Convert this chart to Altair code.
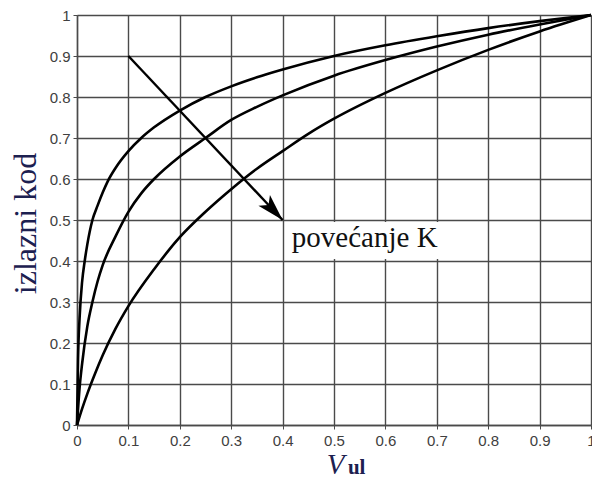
import altair as alt
import pandas as pd
import math

# ---- data ----
x_top = [0, 0.002, 0.005, 0.01, 0.015, 0.02, 0.03, 0.04, 0.05, 0.06, 0.075, 0.1, 0.125, 0.15, 0.2, 0.25, 0.3, 0.35, 0.4, 0.5, 0.6, 0.7, 0.8, 0.9, 1.0]
y_top = [0, 0.16, 0.26, 0.35, 0.40, 0.44, 0.50, 0.535, 0.567, 0.595, 0.627, 0.668, 0.70, 0.726, 0.767, 0.80, 0.826, 0.848, 0.867, 0.90, 0.926, 0.948, 0.968, 0.985, 1.0]

x_mid = [0, 0.005, 0.01, 0.02, 0.03, 0.04, 0.05, 0.075, 0.1, 0.125, 0.15, 0.2, 0.25, 0.3, 0.35, 0.4, 0.5, 0.6, 0.7, 0.8, 0.9, 1.0]
y_mid = [0, 0.09, 0.15, 0.24, 0.30, 0.35, 0.39, 0.46, 0.52, 0.565, 0.60, 0.655, 0.70, 0.744, 0.776, 0.804, 0.852, 0.89, 0.923, 0.952, 0.977, 1.0]

x_low = [0, 0.01, 0.02, 0.035, 0.05, 0.075, 0.1, 0.15, 0.2, 0.25, 0.3, 0.35, 0.4, 0.45, 0.5, 0.6, 0.7, 0.8, 0.9, 1.0]
y_low = [0, 0.04, 0.076, 0.125, 0.17, 0.235, 0.29, 0.38, 0.458, 0.52, 0.575, 0.625, 0.668, 0.71, 0.747, 0.81, 0.865, 0.915, 0.96, 1.0]

tick_values = [0, 0.1, 0.2, 0.3, 0.4, 0.5, 0.6, 0.7, 0.8, 0.9, 1.0]

arrow_start = (0.1, 0.9)
arrow_end = (0.4, 0.5)
label_text = "povećanje K"
label_pos = (0.418, 0.434)
label_box = (0.405, 0.405, 0.73, 0.495)  # x, y, x2, y2

y_title = "izlazni kod"
x_title_main = "V"
x_title_sub = "ul"

# ---- layout ----
W, H = 514, 410
PAD_L, PAD_T = 69, 7
SVG_W, SVG_H = 584, 471
NAVY = "#1c2050"
GRID = "#4a4a4a"

rows = []
for name, xs_, ys_ in [("a", x_top, y_top), ("b", x_mid, y_mid), ("c", x_low, y_low)]:
    for xv, yv in zip(xs_, ys_):
        rows.append({"series": name, "x": xv, "y": yv})
df = pd.DataFrame(rows)

xs = alt.Scale(domain=[0, 1], nice=False, zero=False)
ys = alt.Scale(domain=[0, 1], nice=False, zero=False)

x_axis = alt.Axis(values=tick_values, format="~g", title=None, grid=True,
                  gridColor=GRID, gridWidth=1.4, gridOpacity=1,
                  domainColor=GRID, domainWidth=1.4, tickColor=GRID, tickSize=4,
                  labelFont="Liberation Sans", labelFontSize=15, labelColor="#404040",
                  labelPadding=4, labelFlush=False, labelOverlap=False)
y_axis = alt.Axis(values=tick_values, format="~g", title=y_title, grid=True,
                  gridColor=GRID, gridWidth=1.4, gridOpacity=1,
                  domainColor=GRID, domainWidth=1.4, tickColor=GRID, tickSize=4,
                  labelFont="Liberation Sans", labelFontSize=15, labelColor="#404040",
                  labelPadding=3, labelFlush=False, labelOverlap=False,
                  titleFont="Liberation Serif", titleFontSize=32, titleFontWeight="normal",
                  titleColor=NAVY, titleAngle=-90, titleX=-42, titleY=208,
                  titleAlign="center", titleBaseline="alphabetic")

curves = alt.Chart(df).mark_line(color="black", strokeWidth=2.6, interpolate="monotone").encode(
    x=alt.X("x:Q", scale=xs, axis=x_axis),
    y=alt.Y("y:Q", scale=ys, axis=y_axis),
    detail="series:N",
)

arrow_df = pd.DataFrame([{"x": arrow_start[0], "y": arrow_start[1], "x2": arrow_end[0], "y2": arrow_end[1]}])
shaft = alt.Chart(arrow_df).mark_rule(color="black", strokeWidth=2.4).encode(
    x="x:Q", y="y:Q", x2="x2:Q", y2="y2:Q")

dxp = (arrow_end[0] - arrow_start[0]) * W
dyp = -(arrow_end[1] - arrow_start[1]) * H
ang = 90 + math.degrees(math.atan2(dyp, dxp))
head_df = pd.DataFrame([{"x": arrow_end[0], "y": arrow_end[1]}])
head = alt.Chart(head_df).mark_point(
    shape="M0,0 L0.5,1.7 L0,1.3 L-0.5,1.7 Z", filled=True, color="black",
    opacity=1, size=1000, angle=ang, strokeWidth=0).encode(x="x:Q", y="y:Q")

box_df = pd.DataFrame([{"x": label_box[0], "y": label_box[1], "x2": label_box[2], "y2": label_box[3]}])
box = alt.Chart(box_df).mark_rect(color="white").encode(x="x:Q", y="y:Q", x2="x2:Q", y2="y2:Q")

lab_df = pd.DataFrame([{"x": label_pos[0], "y": label_pos[1], "t": label_text}])
lab = alt.Chart(lab_df).mark_text(font="Liberation Serif", fontSize=29, color="#111111",
                                  align="left", baseline="alphabetic").encode(
    x="x:Q", y="y:Q", text="t:N")

vt_df = pd.DataFrame([{"x": 0.486, "t": x_title_main}])
vt = alt.Chart(vt_df).mark_text(font="Liberation Serif", fontSize=29, fontStyle="italic",
                                color=NAVY, align="left", baseline="alphabetic").encode(
    x="x:Q", y=alt.value(459), text="t:N")
st_df = pd.DataFrame([{"x": 0.527, "t": x_title_sub}])
st = alt.Chart(st_df).mark_text(font="Liberation Serif", fontSize=21, fontWeight="bold",
                                color=NAVY, align="left", baseline="alphabetic").encode(
    x="x:Q", y=alt.value(459), text="t:N")

chart = alt.layer(curves, box, lab, shaft, head, vt, st).properties(
    width=W, height=H,
    autosize=alt.AutoSizeParams(type="none"),
    padding={"left": PAD_L, "top": PAD_T, "right": SVG_W - PAD_L - W, "bottom": SVG_H - PAD_T - H},
).configure_view(stroke=GRID, strokeWidth=1.4).configure(background="white")

chart.save("out.html", embed_options={"renderer": "svg", "actions": False})
